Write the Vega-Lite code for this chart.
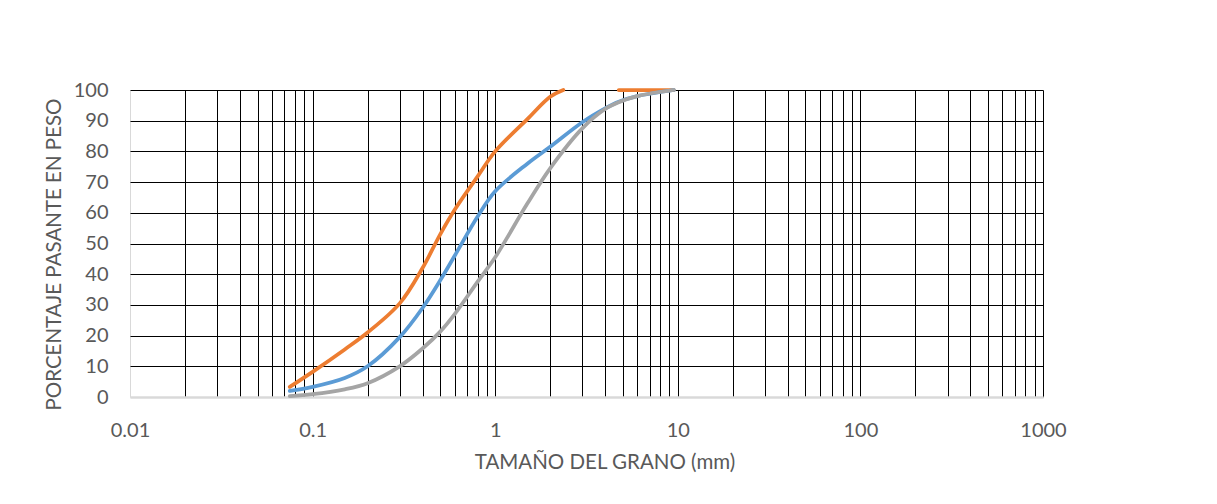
{
  "$schema": "https://vega.github.io/schema/vega-lite/v6.json",
  "width": 913,
  "height": 307,
  "autosize": {"type": "none"},
  "padding": {"left": 130, "top": 90, "right": 174, "bottom": 107},
  "background": "white",
  "config": {
    "view": {"stroke": null},
    "axis": {"labelFont": "Lato", "titleFont": "Lato", "labelColor": "#595959", "titleColor": "#595959", "titleFontWeight": "normal"}
  },
  "data": {
    "values": [
      {"serie": "A", "seg": 1, "d": 0.075, "p": 3.3},
      {"serie": "A", "seg": 1, "d": 0.1, "p": 8.2},
      {"serie": "A", "seg": 1, "d": 0.15, "p": 15.5},
      {"serie": "A", "seg": 1, "d": 0.2, "p": 21.0},
      {"serie": "A", "seg": 1, "d": 0.3, "p": 30.5},
      {"serie": "A", "seg": 1, "d": 0.4, "p": 42.0},
      {"serie": "A", "seg": 1, "d": 0.5, "p": 53.0},
      {"serie": "A", "seg": 1, "d": 0.6, "p": 61.0},
      {"serie": "A", "seg": 1, "d": 0.8, "p": 71.8},
      {"serie": "A", "seg": 1, "d": 1.0, "p": 80.0},
      {"serie": "A", "seg": 1, "d": 1.5, "p": 90.5},
      {"serie": "A", "seg": 1, "d": 2.0, "p": 97.8},
      {"serie": "A", "seg": 1, "d": 2.36, "p": 100},
      {"serie": "A", "seg": 2, "d": 4.75, "p": 100},
      {"serie": "A", "seg": 2, "d": 9.5, "p": 100},
      {"serie": "B", "seg": 1, "d": 0.075, "p": 2.0},
      {"serie": "B", "seg": 1, "d": 0.1, "p": 3.3},
      {"serie": "B", "seg": 1, "d": 0.15, "p": 6.2},
      {"serie": "B", "seg": 1, "d": 0.2, "p": 10.0},
      {"serie": "B", "seg": 1, "d": 0.3, "p": 19.5},
      {"serie": "B", "seg": 1, "d": 0.4, "p": 29.0},
      {"serie": "B", "seg": 1, "d": 0.5, "p": 38.0},
      {"serie": "B", "seg": 1, "d": 0.6, "p": 46.0},
      {"serie": "B", "seg": 1, "d": 0.8, "p": 58.7},
      {"serie": "B", "seg": 1, "d": 1.0, "p": 67.0},
      {"serie": "B", "seg": 1, "d": 1.5, "p": 76.0},
      {"serie": "B", "seg": 1, "d": 2.0, "p": 81.5},
      {"serie": "B", "seg": 1, "d": 3.0, "p": 89.5},
      {"serie": "B", "seg": 1, "d": 4.0, "p": 94.0},
      {"serie": "B", "seg": 1, "d": 4.75, "p": 96.2},
      {"serie": "B", "seg": 1, "d": 6.0, "p": 98.0},
      {"serie": "B", "seg": 1, "d": 9.5, "p": 100},
      {"serie": "C", "seg": 1, "d": 0.075, "p": 0.3},
      {"serie": "C", "seg": 1, "d": 0.1, "p": 0.9},
      {"serie": "C", "seg": 1, "d": 0.15, "p": 2.5},
      {"serie": "C", "seg": 1, "d": 0.2, "p": 4.5},
      {"serie": "C", "seg": 1, "d": 0.3, "p": 10.0},
      {"serie": "C", "seg": 1, "d": 0.4, "p": 15.8},
      {"serie": "C", "seg": 1, "d": 0.5, "p": 21.3},
      {"serie": "C", "seg": 1, "d": 0.6, "p": 27.0},
      {"serie": "C", "seg": 1, "d": 0.8, "p": 37.5},
      {"serie": "C", "seg": 1, "d": 1.0, "p": 45.5},
      {"serie": "C", "seg": 1, "d": 1.5, "p": 63.0},
      {"serie": "C", "seg": 1, "d": 2.0, "p": 74.5},
      {"serie": "C", "seg": 1, "d": 3.0, "p": 87.5},
      {"serie": "C", "seg": 1, "d": 4.0, "p": 93.8},
      {"serie": "C", "seg": 1, "d": 4.75, "p": 96.0},
      {"serie": "C", "seg": 1, "d": 6.0, "p": 98.0},
      {"serie": "C", "seg": 1, "d": 9.5, "p": 100}
    ]
  },
  "mark": {"type": "line", "interpolate": "catmull-rom", "strokeWidth": 3.75, "strokeCap": "round", "clip": false},
  "encoding": {
    "x": {
      "field": "d",
      "type": "quantitative",
      "scale": {"type": "log", "domain": [0.01, 1000], "nice": false},
      "axis": {
        "title": "TAMAÑO DEL GRANO (mm)",
        "titleFontSize": 20.5,
        "titlePadding": 12,
        "titleX": 474.5,
        "labelFontSize": 20,
        "labelPadding": 23,
        "ticks": false,
        "domainColor": "#d9d9d9",
        "domainWidth": 2,
        "values": [0.01,0.02,0.03,0.04,0.05,0.06,0.07,0.08,0.09,0.1,0.2,0.3,0.4,0.5,0.6,0.7,0.8,0.9,1,2,3,4,5,6,7,8,9,10,20,30,40,50,60,70,80,90,100,200,300,400,500,600,700,800,900,1000],
        "labelExpr": "(datum.value == 0.01 || datum.value == 0.1 || datum.value == 1 || datum.value == 10 || datum.value == 100 || datum.value == 1000) ? format(datum.value, '~g') : ''",
        "labelOverlap": false,
        "labelFlush": false,
        "grid": true,
        "gridColor": {"condition": {"test": "datum.value == 0.01", "value": "#d9d9d9"}, "value": "#000000"},
        "gridWidth": 1
      }
    },
    "y": {
      "field": "p",
      "type": "quantitative",
      "scale": {"domain": [0, 100], "nice": false},
      "axis": {
        "title": "PORCENTAJE PASANTE EN PESO",
        "titleFontSize": 20.5,
        "titlePadding": 9,
        "titleY": 164,
        "labelFontSize": 20,
        "labelPadding": 22,
        "ticks": false,
        "domain": false,
        "values": [0,10,20,30,40,50,60,70,80,90,100],
        "grid": true,
        "gridColor": {"condition": {"test": "datum.value == 0", "value": "#d9d9d9"}, "value": "#000000"},
        "gridWidth": {"condition": {"test": "datum.value == 0", "value": 2}, "value": 1}
      }
    },
    "color": {
      "field": "serie",
      "type": "nominal",
      "scale": {"domain": ["A", "B", "C"], "range": ["#ED7D31", "#5B9BD5", "#A5A5A5"]},
      "legend": null
    },
    "detail": {"field": "seg"}
  }
}
